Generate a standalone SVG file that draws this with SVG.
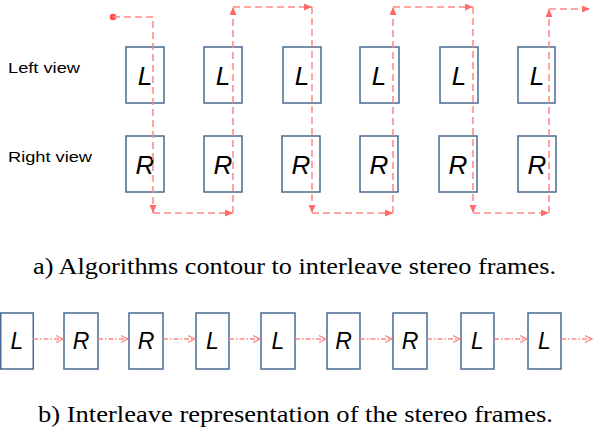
<svg xmlns="http://www.w3.org/2000/svg" width="593" height="434" viewBox="0 0 593 434">
<style>
.box{fill:#fff;stroke:#4a6a94;stroke-width:1.5}
.lt{font-family:"Liberation Sans",Arial,sans-serif;font-style:italic;font-size:26px;fill:#000;text-anchor:middle}
.lb{font-family:"Liberation Sans",Arial,sans-serif;font-style:italic;font-size:23px;fill:#000;text-anchor:middle}
.lab{font-family:"Liberation Sans",Arial,sans-serif;font-size:15px;fill:#000}
.cap{font-family:"Liberation Serif","Times New Roman",serif;font-size:23px;fill:#000}
.path{fill:none;stroke:#ff8585;stroke-width:1.5;stroke-dasharray:7 4;marker-end:url(#fa)}
.dd{fill:none;stroke:#ff8585;stroke-width:1.3;stroke-dasharray:5 2 1.5 2;marker-end:url(#oa)}
</style>
<defs>
<marker id="fa" markerWidth="9" markerHeight="8" refX="8" refY="3.5" orient="auto" markerUnits="userSpaceOnUse">
<path d="M0,0 L8,3.5 L0,7 z" fill="#ff6b6b"/>
</marker>
<marker id="oa" markerWidth="9" markerHeight="9" refX="7.5" refY="4" orient="auto" markerUnits="userSpaceOnUse">
<path d="M0.5,0.5 L7.5,4 L0.5,7.5" fill="none" stroke="#ff8585" stroke-width="1.2"/>
</marker>
</defs>

<text class="lab" x="8" y="73" textLength="72" lengthAdjust="spacingAndGlyphs">Left view</text>
<text class="lab" x="8" y="162" textLength="84" lengthAdjust="spacingAndGlyphs">Right view</text>

<g id="L1"><rect class="box" x="126" y="47" width="38" height="56"/><text class="lt" x="145" y="85">L</text></g>
<g id="L2"><rect class="box" x="204" y="47" width="38" height="56"/><text class="lt" x="223" y="85">L</text></g>
<g id="L3"><rect class="box" x="283" y="47" width="38" height="56"/><text class="lt" x="302" y="85">L</text></g>
<g id="L4"><rect class="box" x="360" y="47" width="39" height="56"/><text class="lt" x="379" y="85">L</text></g>
<g id="L5"><rect class="box" x="440" y="47" width="38" height="56"/><text class="lt" x="459" y="85">L</text></g>
<g id="L6"><rect class="box" x="518" y="47" width="37" height="56"/><text class="lt" x="537" y="85">L</text></g>

<g id="R1"><rect class="box" x="126" y="136" width="38" height="56"/><text class="lt" x="145" y="174">R</text></g>
<g id="R2"><rect class="box" x="204" y="136" width="38" height="56"/><text class="lt" x="223" y="174">R</text></g>
<g id="R3"><rect class="box" x="282" y="136" width="38" height="56"/><text class="lt" x="301" y="174">R</text></g>
<g id="R4"><rect class="box" x="360" y="136" width="38" height="56"/><text class="lt" x="379" y="174">R</text></g>
<g id="R5"><rect class="box" x="439" y="136" width="38" height="56"/><text class="lt" x="458" y="174">R</text></g>
<g id="R6"><rect class="box" x="518" y="136" width="38" height="56"/><text class="lt" x="537" y="174">R</text></g>

<g id="contour">
<circle cx="113" cy="17" r="3.2" fill="#ff4d4d"/>
<path class="path" d="M113,17 H153 V213"/>
<path class="path" d="M153,213 H233"/>
<path class="path" d="M233,213 V7"/>
<path class="path" d="M233,7 H312"/>
<path class="path" d="M312,7 V213"/>
<path class="path" d="M312,213 H393"/>
<path class="path" d="M393,213 V7"/>
<path class="path" d="M393,7 H473"/>
<path class="path" d="M473,7 V213"/>
<path class="path" d="M473,213 H549"/>
<path class="path" d="M549,213 V9"/>
<path class="path" d="M549,9 H590"/>
</g>

<text class="cap" x="33" y="274" textLength="523" lengthAdjust="spacingAndGlyphs">a) Algorithms contour to interleave stereo frames.</text>

<g id="B1"><rect class="box" x="0.75" y="313" width="32.5" height="56"/><text class="lb" x="17" y="349">L</text></g>
<g id="B2"><rect class="box" x="64" y="313" width="34" height="56"/><text class="lb" x="81" y="349">R</text></g>
<g id="B3"><rect class="box" x="129" y="313" width="34" height="56"/><text class="lb" x="146" y="349">R</text></g>
<g id="B4"><rect class="box" x="196" y="313" width="33" height="56"/><text class="lb" x="212.5" y="349">L</text></g>
<g id="B5"><rect class="box" x="261" y="313" width="34" height="56"/><text class="lb" x="278" y="349">L</text></g>
<g id="B6"><rect class="box" x="327" y="313" width="33" height="56"/><text class="lb" x="343.5" y="349">R</text></g>
<g id="B7"><rect class="box" x="393" y="313" width="34" height="56"/><text class="lb" x="410" y="349">R</text></g>
<g id="B8"><rect class="box" x="461" y="313" width="33" height="56"/><text class="lb" x="477.5" y="349">L</text></g>
<g id="B9"><rect class="box" x="528" y="313" width="33" height="56"/><text class="lb" x="544.5" y="349">L</text></g>

<g id="seq">
<path class="dd" d="M33,339 H63"/>
<path class="dd" d="M98,339 H128"/>
<path class="dd" d="M163,339 H195"/>
<path class="dd" d="M229,339 H260"/>
<path class="dd" d="M295,339 H326"/>
<path class="dd" d="M360,339 H392"/>
<path class="dd" d="M427,339 H460"/>
<path class="dd" d="M494,339 H527"/>
<path class="dd" d="M561,339 H592"/>
</g>

<text class="cap" x="38" y="422" textLength="515" lengthAdjust="spacingAndGlyphs">b) Interleave representation of the stereo frames.</text>
</svg>
